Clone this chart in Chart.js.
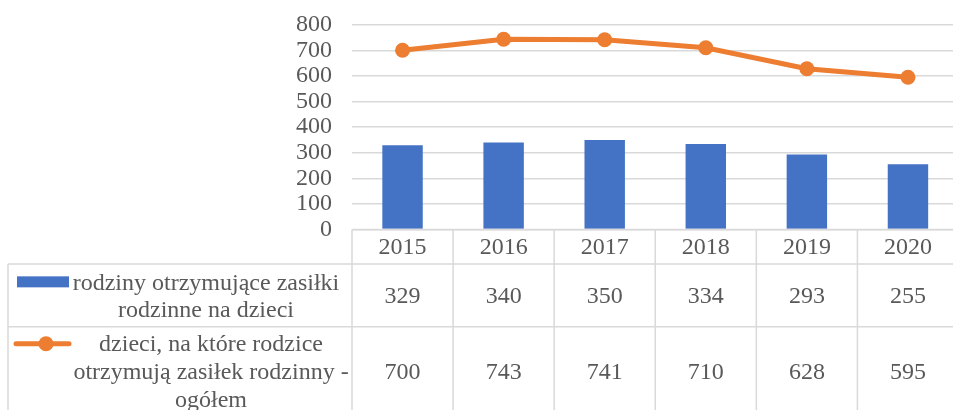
<!DOCTYPE html>
<html>
<head>
<meta charset="utf-8">
<script src="https://cdn.jsdelivr.net/npm/chart.js@4/dist/chart.umd.min.js"></script>
<style>
  html, body { margin: 0; padding: 0; background: #fff; overflow: hidden; }
  #wrap { width: 953px; height: 410px; overflow: hidden; position: relative; }
  canvas { display: block; }
</style>
</head>
<body>
<div id="wrap"><canvas id="c" width="966" height="410"></canvas></div>
<script>
const categories = ['2015', '2016', '2017', '2018', '2019', '2020'];
const familiesValues = [329, 340, 350, 334, 293, 255];
const childrenValues = [700, 743, 741, 710, 628, 595];
const familiesLabel = ['rodziny otrzymujące zasiłki', 'rodzinne na dzieci'];
const childrenLabel = ['dzieci, na które rodzice', 'otrzymują zasiłek rodzinny -', 'ogółem'];

const BLUE = '#4472C4';
const ORANGE = '#ED7D31';
const GRID = '#d9d9d9';
const TEXT = '#595959';
const FONT = '24px "Liberation Serif", "Times New Roman", serif';

const dataTablePlugin = {
  id: 'dataTable',
  afterDraw(chart) {
    const ctx = chart.ctx;
    const x = chart.scales.x;
    const area = chart.chartArea;
    const n = categories.length;
    const colW = (area.right - area.left) / n;
    const top = area.bottom;
    const headerBottom = top + 34.5;
    const row1Bottom = headerBottom + 62.7;
    const tableLeft = 8;
    const bottom = chart.height + 5;
    const right = chart.width;

    ctx.save();
    ctx.strokeStyle = GRID;
    ctx.lineWidth = 1.5;
    ctx.beginPath();
    ctx.moveTo(area.left, top); ctx.lineTo(right, top);
    ctx.moveTo(tableLeft, headerBottom); ctx.lineTo(right, headerBottom);
    ctx.moveTo(tableLeft, row1Bottom); ctx.lineTo(right, row1Bottom);
    ctx.moveTo(tableLeft, headerBottom); ctx.lineTo(tableLeft, bottom);
    for (let i = 0; i <= n; i++) {
      const cx = x.getPixelForValue(i) - colW / 2;
      ctx.moveTo(cx, top); ctx.lineTo(cx, bottom);
    }
    ctx.stroke();

    ctx.fillStyle = TEXT;
    ctx.font = FONT;
    ctx.textAlign = 'center';
    ctx.textBaseline = 'middle';
    const row1Mid = (headerBottom + row1Bottom) / 2 + 1.5;
    const row2Mid = row1Bottom + 46;
    for (let i = 0; i < n; i++) {
      const cx = x.getPixelForValue(i);
      ctx.fillText(categories[i], cx, (top + headerBottom) / 2 + 0.5);
      ctx.fillText(String(familiesValues[i]), cx, row1Mid);
      ctx.fillText(String(childrenValues[i]), cx, row2Mid);
    }

    const labelCenter = 206;
    const l1y = row1Mid - 13.5;
    familiesLabel.forEach((t, k) => ctx.fillText(t, labelCenter, l1y + k * 27.5));
    const l2y = row2Mid - 28;
    childrenLabel.forEach((t, k) => ctx.fillText(t, labelCenter + 5, l2y + k * 28));

    ctx.fillStyle = BLUE;
    ctx.fillRect(17, l1y - 7, 52, 11);
    ctx.strokeStyle = ORANGE;
    ctx.lineWidth = 5;
    ctx.lineCap = 'round';
    ctx.beginPath();
    ctx.moveTo(16, l2y - 1); ctx.lineTo(69, l2y - 1);
    ctx.stroke();
    ctx.fillStyle = ORANGE;
    ctx.beginPath();
    ctx.arc(46, l2y - 1, 7.5, 0, Math.PI * 2);
    ctx.fill();
    ctx.restore();
  }
};

new Chart(document.getElementById('c'), {
  data: {
    labels: categories,
    datasets: [
      {
        type: 'line',
        label: childrenLabel.join(' '),
        data: childrenValues,
        borderColor: ORANGE,
        backgroundColor: ORANGE,
        borderWidth: 5,
        pointRadius: 7.5,
        pointBorderWidth: 0,
        pointBackgroundColor: ORANGE,
        tension: 0,
        order: 0
      },
      {
        type: 'bar',
        label: familiesLabel.join(' '),
        data: familiesValues,
        backgroundColor: BLUE,
        categoryPercentage: 1,
        barPercentage: 0.4,
        order: 1
      }
    ]
  },
  options: {
    responsive: false,
    animation: false,
    layout: { padding: { left: 0, right: 2, top: 24.7, bottom: 180.5 } },
    plugins: { legend: { display: false }, tooltip: { enabled: false } },
    scales: {
      x: { display: false, offset: true },
      y: {
        min: 0, max: 800,
        afterFit(scale) { scale.width = 352; scale.paddingTop = 0; scale.paddingBottom = 0; },
        border: { display: false },
        grid: { color: GRID, lineWidth: 1.5, drawTicks: false },
        ticks: { stepSize: 100, autoSkip: false, padding: 20, color: TEXT, font: { family: '"Liberation Serif", "Times New Roman", serif', size: 24, lineHeight: 1 } }
      }
    }
  },
  plugins: [dataTablePlugin]
});
</script>
</body>
</html>
